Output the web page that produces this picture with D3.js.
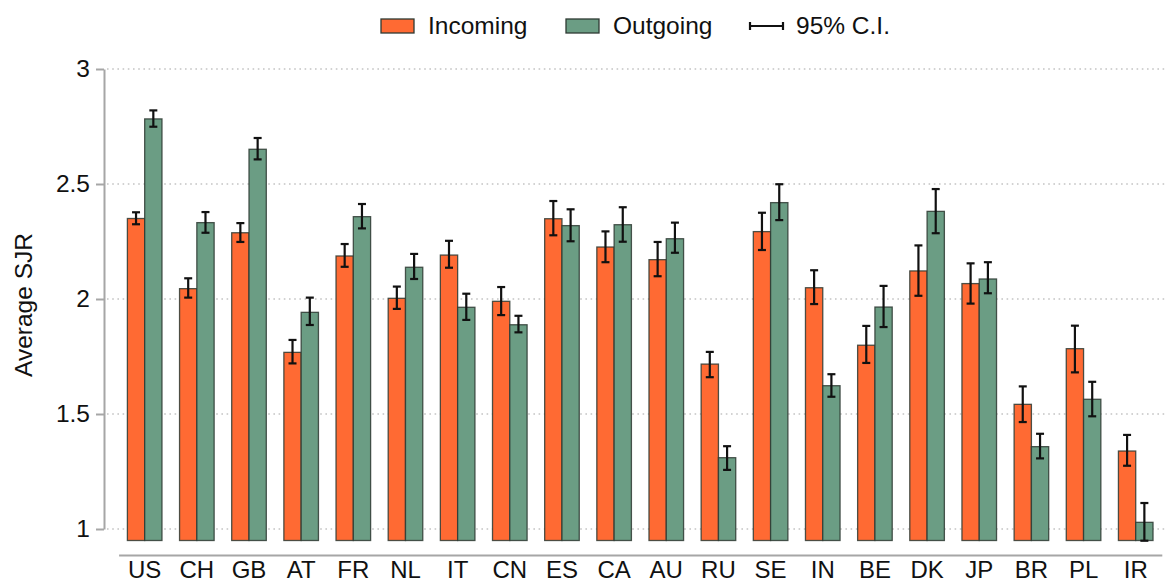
<!DOCTYPE html>
<html>
<head>
<meta charset="utf-8">
<script src="https://cdn.jsdelivr.net/npm/d3@7"></script>
<style>
    html, body { margin: 0; padding: 0; background: #fff; }
    #grafica { width: 1167px; height: 584px; }
</style>
</head>
<body>
<div id="grafica"></div>
<script>
// Datos (SJR medio por país, con IC del 95%)
const paises = ["US", "CH", "GB", "AT", "FR", "NL", "IT", "CN", "ES", "CA", "AU", "RU", "SE", "IN", "BE", "DK", "JP", "BR", "PL", "IR"];
const entrantes = [2.35, 2.045, 2.288, 1.768, 2.187, 2.003, 2.191, 1.99, 2.349, 2.226, 2.171, 1.717, 2.293, 2.049, 1.799, 2.122, 2.067, 1.542, 1.784, 1.339];
const entrantesBajo = [2.325, 2.006, 2.248, 1.72, 2.14, 1.957, 2.136, 1.93, 2.277, 2.16, 2.099, 1.66, 2.213, 1.978, 1.722, 2.014, 1.98, 1.465, 1.681, 1.275];
const entrantesAlto = [2.377, 2.09, 2.33, 1.822, 2.239, 2.054, 2.253, 2.052, 2.426, 2.294, 2.248, 1.77, 2.375, 2.125, 1.883, 2.233, 2.155, 1.62, 1.884, 1.409];
const salientes = [2.783, 2.332, 2.651, 1.942, 2.358, 2.138, 1.964, 1.888, 2.319, 2.323, 2.262, 1.31, 2.419, 1.623, 1.965, 2.381, 2.087, 1.358, 1.564, 1.029];
const salientesBajo = [2.749, 2.288, 2.607, 1.887, 2.307, 2.087, 1.909, 1.855, 2.251, 2.249, 2.201, 1.257, 2.343, 1.575, 1.878, 2.286, 2.025, 1.307, 1.49, 0.949];
const salientesAlto = [2.82, 2.378, 2.70, 2.006, 2.413, 2.196, 2.023, 1.927, 2.39, 2.399, 2.332, 1.36, 2.499, 1.673, 2.057, 2.478, 2.16, 1.414, 1.64, 1.113];
const ticksY = [1, 1.5, 2, 2.5, 3];
const series = ["Incoming", "Outgoing"];
const baseBarras = 0.95;

// 1. Tabla plana: una fila por barra
const data = [];
paises.forEach((p, i) => {
    data.push({ pais: p, serie: "Incoming", valor: entrantes[i], lo: entrantesBajo[i], hi: entrantesAlto[i] });
    data.push({ pais: p, serie: "Outgoing", valor: salientes[i], lo: salientesBajo[i], hi: salientesAlto[i] });
});

// 2. Lienzo
const width = 1167, height = 584;
const fuente = "'Liberation Sans', Arial, sans-serif";
const svg = d3.select("#grafica").append("svg")
    .attr("width", width)
    .attr("height", height)
    .style("font-family", fuente);

// 3. Escalas
const x = d3.scaleBand()
    .domain(paises)
    .range([118.6, 1161.8])
    .paddingInner(0.337)
    .paddingOuter(0.1685);

const xSub = d3.scaleBand()
    .domain(series)
    .range([0, x.bandwidth()]);

const y = d3.scaleLinear()
    .domain([1, 3])
    .range([529, 69]);

const color = d3.scaleOrdinal()
    .domain(series)
    .range(["#ff6a33", "#6b9d84"]);

// 4. Rejilla punteada
svg.append("g")
    .selectAll("line")
    .data(ticksY)
    .join("line")
    .attr("x1", 107)
    .attr("x2", 1165)
    .attr("y1", (d) => y(d))
    .attr("y2", (d) => y(d))
    .attr("stroke", "#c4c4c4")
    .attr("stroke-width", 1.3)
    .attr("stroke-dasharray", "1.6,3.6");

// 5. Eje Y
const ejeY = svg.append("g")
    .attr("transform", "translate(104,0)")
    .call(d3.axisLeft(y).tickValues(ticksY).tickFormat(d3.format("")).tickSize(8).tickSizeOuter(0).tickPadding(6));
ejeY.select(".domain").attr("stroke", "#a6a6a6").attr("stroke-width", 2);
ejeY.selectAll(".tick line").attr("stroke", "#a6a6a6").attr("stroke-width", 2);
ejeY.selectAll(".tick text")
    .attr("fill", "#111")
    .style("font-size", "24.5px")
    .style("font-family", fuente);

svg.append("text")
    .attr("transform", "translate(32,305) rotate(-90)")
    .attr("text-anchor", "middle")
    .attr("fill", "#111")
    .style("font-size", "24.5px")
    .text("Average SJR");

// 6. Eje X
const ejeX = svg.append("g")
    .attr("transform", "translate(0,555)")
    .call(d3.axisBottom(x).tickSize(0).tickPadding(6));
ejeX.select(".domain").attr("stroke", "#a6a6a6").attr("stroke-width", 2.2);
ejeX.selectAll(".tick text")
    .attr("fill", "#111")
    .style("font-size", "24px")
    .style("font-family", fuente);

// 7. Barras
svg.append("g")
    .selectAll("rect")
    .data(data)
    .join("rect")
    .attr("x", (d) => x(d.pais) + xSub(d.serie))
    .attr("y", (d) => y(d.valor))
    .attr("width", xSub.bandwidth())
    .attr("height", (d) => y(baseBarras) - y(d.valor))
    .attr("fill", (d) => color(d.serie))
    .attr("stroke", "#2e3a33")
    .attr("stroke-opacity", 0.85)
    .attr("stroke-width", 1.3);

// 8. Barras de error (IC 95%)
const cap = 4;
const errores = svg.append("g")
    .attr("stroke", "#111")
    .attr("stroke-width", 2.2)
    .selectAll("g")
    .data(data)
    .join("g")
    .attr("transform", (d) => `translate(${x(d.pais) + xSub(d.serie) + xSub.bandwidth() / 2},0)`);

errores.append("line")
    .attr("y1", (d) => y(d.lo))
    .attr("y2", (d) => y(d.hi));
errores.append("line")
    .attr("x1", -cap).attr("x2", cap)
    .attr("y1", (d) => y(d.hi)).attr("y2", (d) => y(d.hi));
errores.append("line")
    .attr("x1", -cap).attr("x2", cap)
    .attr("y1", (d) => y(d.lo)).attr("y2", (d) => y(d.lo));

// 9. Leyenda
const leyenda = svg.append("g").style("font-size", "24.5px").attr("fill", "#111");
const itemsX = [381, 566];
series.forEach((s, i) => {
    leyenda.append("rect")
        .attr("x", itemsX[i])
        .attr("y", 19)
        .attr("width", 33)
        .attr("height", 14)
        .attr("fill", color(s))
        .attr("stroke", "#2e3a33")
        .attr("stroke-width", 1.3);
    leyenda.append("text")
        .attr("x", itemsX[i] + 47)
        .attr("y", 34)
        .text(s);
});
const ci = leyenda.append("g").attr("stroke", "#111").attr("stroke-width", 2.2);
ci.append("line").attr("x1", 750).attr("x2", 783).attr("y1", 26).attr("y2", 26);
ci.append("line").attr("x1", 750).attr("x2", 750).attr("y1", 22).attr("y2", 30);
ci.append("line").attr("x1", 783).attr("x2", 783).attr("y1", 22).attr("y2", 30);
leyenda.append("text")
    .attr("x", 796)
    .attr("y", 34)
    .text("95% C.I.");
</script>
</body>
</html>
